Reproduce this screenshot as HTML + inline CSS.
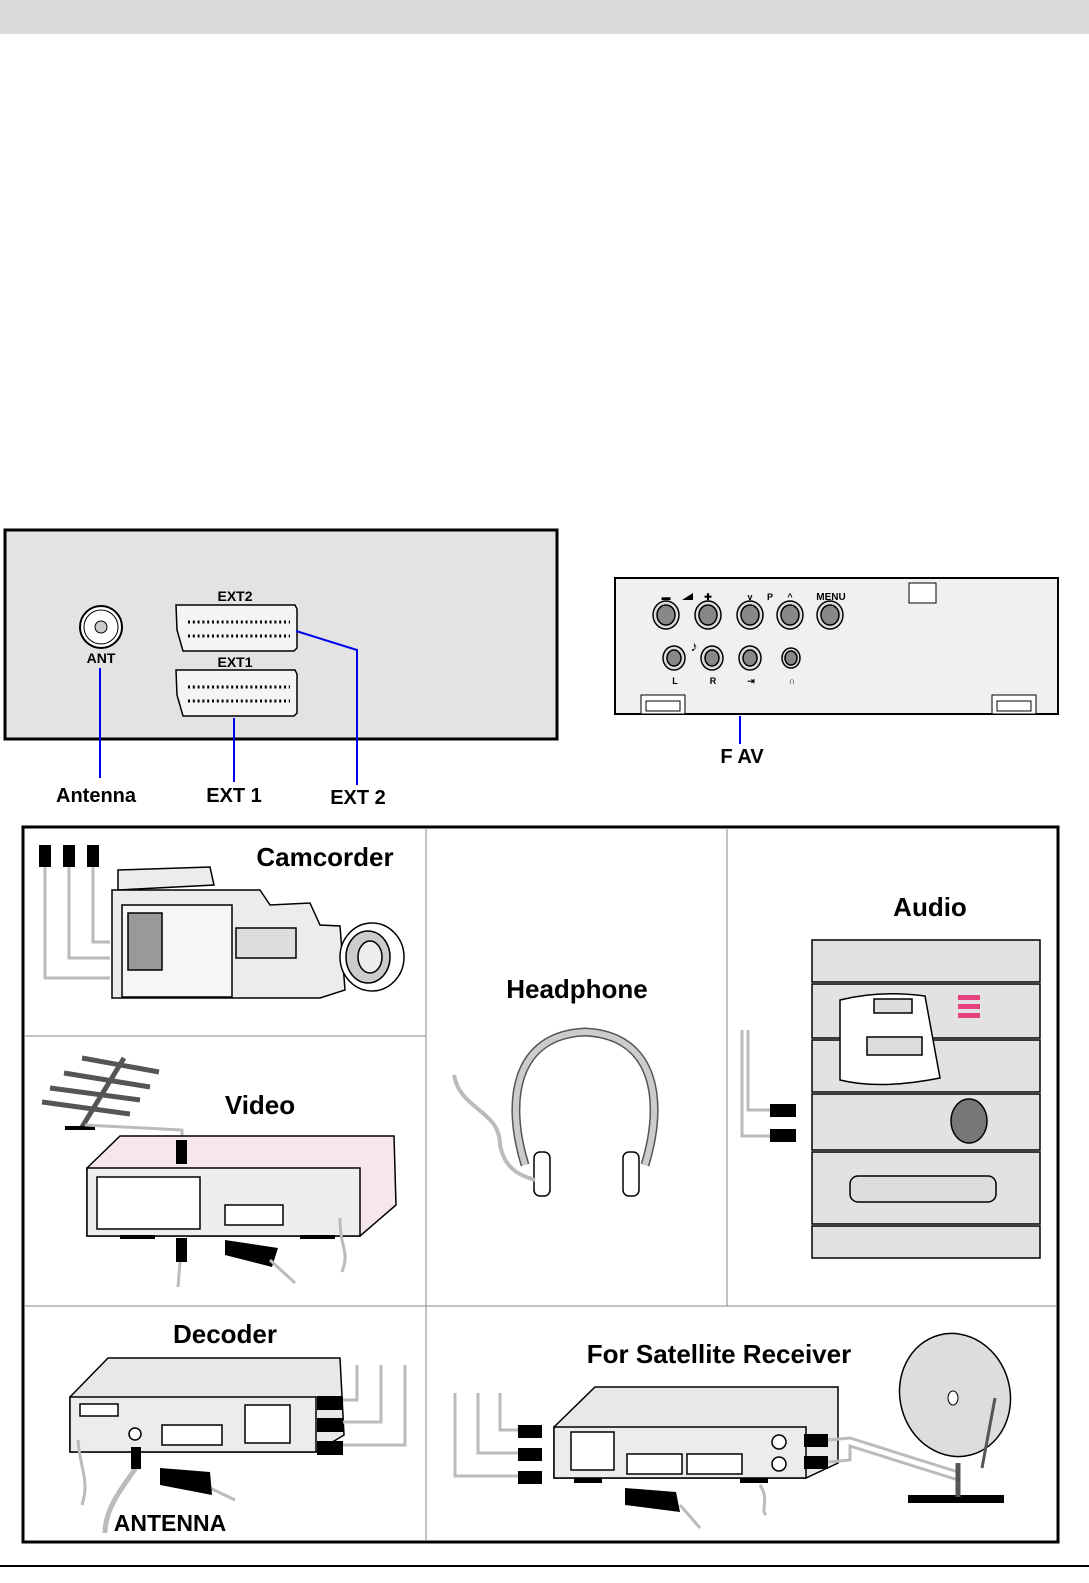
<!DOCTYPE html>
<html><head><meta charset="utf-8"><style>
html,body{margin:0;padding:0;background:#fff;overflow:hidden;width:100%;height:100%;}
svg{display:block;width:100vw;height:100vh;}
text{font-family:"Liberation Sans",Arial,sans-serif;font-weight:bold;}
</style></head><body>
<svg viewBox="0 0 1089 1583" preserveAspectRatio="none" xmlns="http://www.w3.org/2000/svg">
<rect x="0" y="0" width="1089" height="34" fill="#d9d9d9"/>
<rect x="5" y="530" width="552" height="209" fill="#e3e3e3" stroke="#000" stroke-width="3"/>
<circle cx="101" cy="627" r="21" fill="#fff" stroke="#000" stroke-width="2"/>
<circle cx="101" cy="627" r="17" fill="none" stroke="#000" stroke-width="1"/>
<circle cx="101" cy="627" r="6" fill="#ccc" stroke="#000"/>
<text x="101" y="663" font-size="14" text-anchor="middle">ANT</text>
<text x="235" y="601" font-size="14" text-anchor="middle">EXT2</text>
<text x="235" y="667" font-size="14" text-anchor="middle">EXT1</text>
<g fill="#f4f4f4" stroke="#000" stroke-width="1.5">
<path d="M176,605 L295,605 L297,609 L297,648 L294,651 L183,651 L177,630 Z"/>
<path d="M176,670 L295,670 L297,674 L297,713 L294,716 L183,716 L177,695 Z"/>
</g>
<g stroke="#000" stroke-width="3" stroke-dasharray="2,2.8">
<line x1="188" y1="622" x2="290" y2="622"/><line x1="188" y1="636" x2="290" y2="636"/>
<line x1="188" y1="687" x2="290" y2="687"/><line x1="188" y1="701" x2="290" y2="701"/>
</g>
<g stroke="#0000ee" stroke-width="2" fill="none">
<line x1="100" y1="668" x2="100" y2="778"/>
<line x1="234" y1="718" x2="234" y2="782"/>
<polyline points="296,631 357,650 357,785"/>
<line x1="740" y1="716" x2="740" y2="744"/>
</g>
<text x="96" y="802" font-size="20" text-anchor="middle">Antenna</text>
<text x="234" y="802" font-size="20" text-anchor="middle">EXT 1</text>
<text x="358" y="804" font-size="20" text-anchor="middle">EXT 2</text>
<rect x="615" y="578" width="443" height="136" fill="#f0f0f0" stroke="#000" stroke-width="2"/>
<rect x="909" y="583" width="27" height="20" fill="#fff" stroke="#000"/>
<g fill="#888" stroke="#000" stroke-width="1.5">
<ellipse cx="666" cy="615" rx="13" ry="14" fill="#ddd"/><ellipse cx="666" cy="615" rx="9" ry="10"/>
<ellipse cx="708" cy="615" rx="13" ry="14" fill="#ddd"/><ellipse cx="708" cy="615" rx="9" ry="10"/>
<ellipse cx="750" cy="615" rx="13" ry="14" fill="#ddd"/><ellipse cx="750" cy="615" rx="9" ry="10"/>
<ellipse cx="790" cy="615" rx="13" ry="14" fill="#ddd"/><ellipse cx="790" cy="615" rx="9" ry="10"/>
<ellipse cx="830" cy="615" rx="13" ry="14" fill="#ddd"/><ellipse cx="830" cy="615" rx="9" ry="10"/>
<ellipse cx="674" cy="658" rx="11" ry="12" fill="#ddd"/><ellipse cx="674" cy="658" rx="7" ry="8"/>
<ellipse cx="712" cy="658" rx="11" ry="12" fill="#ddd"/><ellipse cx="712" cy="658" rx="7" ry="8"/>
<ellipse cx="750" cy="658" rx="11" ry="12" fill="#ddd"/><ellipse cx="750" cy="658" rx="7" ry="8"/>
<ellipse cx="791" cy="658" rx="9" ry="10" fill="#ddd"/><ellipse cx="791" cy="658" rx="6" ry="7"/>
</g>
<g font-size="9" text-anchor="middle">
<text x="666" y="600">▬</text><path d="M682,600 L693,593 L693,600 Z"/><text x="708" y="600">✚</text>
<text x="750" y="600">v</text><text x="770" y="600">P</text><text x="790" y="600">^</text>
<text x="831" y="600" font-size="10">MENU</text>
<text x="675" y="684">L</text><text x="713" y="684">R</text><text x="751" y="684">⇥</text><text x="792" y="684">∩</text>
<text x="694" y="651" font-size="14">♪</text>
</g>
<g fill="#fff" stroke="#000"><rect x="641" y="695" width="44" height="19"/><rect x="646" y="701" width="34" height="10"/>
<rect x="992" y="695" width="44" height="19"/><rect x="997" y="701" width="34" height="10"/></g>
<text x="742" y="763" font-size="20" text-anchor="middle">F AV</text>

<rect x="23" y="827" width="1035" height="715" fill="#fff" stroke="#000" stroke-width="3"/>
<g stroke="#888" stroke-width="1">
<line x1="426" y1="828" x2="426" y2="1541"/><line x1="727" y1="828" x2="727" y2="1306"/>
<line x1="24" y1="1306" x2="1057" y2="1306"/><line x1="24" y1="1036" x2="426" y2="1036"/>
</g>
<g font-size="26" text-anchor="middle">
<text x="325" y="866">Camcorder</text><text x="930" y="916">Audio</text>
<text x="577" y="998">Headphone</text><text x="260" y="1114">Video</text>
<text x="225" y="1343">Decoder</text><text x="719" y="1363">For Satellite Receiver</text>
<text x="170" y="1531" font-size="23">ANTENNA</text>
</g>
<g stroke="#bbb" stroke-width="3" fill="none">
<polyline points="45,860 45,978 110,978"/><polyline points="69,860 69,958 110,958"/><polyline points="93,860 93,942 110,942"/>
</g>
<g fill="#000"><rect x="39" y="845" width="12" height="22"/><rect x="63" y="845" width="12" height="22"/><rect x="87" y="845" width="12" height="22"/></g>
<g stroke="#000" stroke-width="1.5" fill="#ececec">
<path d="M118,870 L210,867 L214,885 L118,890 Z"/>
<path d="M112,890 L260,890 L270,905 L310,903 L320,925 L340,926 L345,990 L320,998 L112,998 Z"/>
<rect x="122" y="905" width="110" height="92" fill="#f6f6f6"/>
<rect x="128" y="913" width="34" height="57" fill="#999"/>
<rect x="236" y="928" width="60" height="30" fill="#ddd"/>
<ellipse cx="372" cy="957" rx="32" ry="34" fill="#fff"/>
<ellipse cx="368" cy="957" rx="22" ry="26" fill="#ccc"/>
<ellipse cx="370" cy="957" rx="12" ry="16" fill="#eee"/>
</g>
<g stroke="#555" stroke-width="5">
<line x1="82" y1="1058" x2="159" y2="1072"/><line x1="64" y1="1073" x2="150" y2="1087"/>
<line x1="50" y1="1088" x2="140" y2="1100"/><line x1="42" y1="1102" x2="130" y2="1114"/>
<line x1="124" y1="1058" x2="82" y2="1127"/>
</g>
<rect x="65" y="1126" width="30" height="4" fill="#000"/>
<polyline points="85,1125 182,1130 182,1140" stroke="#bbb" stroke-width="3" fill="none"/>
<g stroke="#000" stroke-width="1.5">
<path d="M87,1168 L120,1136 L394,1136 L396,1205 L360,1236 L87,1236 Z" fill="#f8e6ef"/>
<rect x="87" y="1168" width="273" height="68" fill="#eee"/>
<rect x="97" y="1177" width="103" height="52" fill="#fff"/>
<rect x="225" y="1205" width="58" height="20" fill="#fff"/>
</g>
<rect x="176" y="1140" width="11" height="24" fill="#000"/>
<rect x="176" y="1238" width="11" height="24" fill="#000"/>
<rect x="120" y="1235" width="35" height="4" fill="#000"/><rect x="300" y="1235" width="35" height="4" fill="#000"/>
<path d="M225,1240 L278,1248 L272,1267 L225,1255 Z" fill="#000"/>
<g stroke="#bbb" stroke-width="3" fill="none"><line x1="180" y1="1262" x2="178" y2="1287"/><line x1="270" y1="1260" x2="295" y2="1283"/><path d="M340,1218 C340,1250 350,1250 342,1272"/></g>
<path d="M525,1165 C505,1100 515,1035 585,1032 C655,1035 665,1100 645,1165" fill="none" stroke="#555" stroke-width="9"/>
<path d="M525,1165 C505,1100 515,1035 585,1032 C655,1035 665,1100 645,1165" fill="none" stroke="#ccc" stroke-width="6"/>
<g fill="#fff" stroke="#000" stroke-width="1.5"><rect x="534" y="1152" width="16" height="44" rx="6"/><rect x="623" y="1152" width="16" height="44" rx="6"/></g>
<path d="M454,1075 C460,1110 500,1110 500,1145 C505,1170 520,1175 535,1180" fill="none" stroke="#bbb" stroke-width="4"/>
<g stroke="#000" stroke-width="1.5" fill="#e2e2e2">
<rect x="812" y="940" width="228" height="42"/>
<rect x="812" y="984" width="228" height="54"/>
<rect x="812" y="1040" width="228" height="52"/>
<rect x="812" y="1094" width="228" height="56"/>
<rect x="812" y="1152" width="228" height="72"/>
<rect x="812" y="1226" width="228" height="32"/>
<path d="M840,1000 Q880,990 925,996 L940,1078 Q880,1090 840,1080 Z" fill="#fff"/>
<rect x="874" y="999" width="38" height="14" fill="#ddd"/>
<rect x="867" y="1037" width="55" height="18" fill="#ddd"/>
<ellipse cx="969" cy="1121" rx="18" ry="22" fill="#777"/>
<rect x="850" y="1176" width="146" height="26" rx="8" fill="#ddd"/>
</g>
<g fill="#e6417f"><rect x="958" y="995" width="22" height="5"/><rect x="958" y="1004" width="22" height="5"/><rect x="958" y="1013" width="22" height="5"/></g>
<g stroke="#bbb" stroke-width="3" fill="none"><polyline points="748,1030 748,1110 770,1110"/><polyline points="742,1030 742,1136 770,1136"/></g>
<g fill="#000"><rect x="770" y="1104" width="26" height="13"/><rect x="770" y="1129" width="26" height="13"/></g>
<g stroke="#000" stroke-width="1.5">
<path d="M70,1397 L108,1358 L340,1358 L344,1435 L316,1452 L70,1452 Z" fill="#e8e8e8"/>
<rect x="70" y="1397" width="246" height="55" fill="#ececec"/>
<rect x="80" y="1404" width="38" height="12" fill="#fff"/>
<rect x="162" y="1425" width="60" height="20" fill="#fff"/>
<rect x="245" y="1405" width="45" height="38" fill="#fff"/>
<circle cx="135" cy="1434" r="6" fill="#fff"/>
</g>
<g fill="#000"><rect x="317" y="1396" width="26" height="14"/><rect x="317" y="1418" width="26" height="14"/><rect x="317" y="1441" width="26" height="14"/></g>
<g stroke="#bbb" stroke-width="3" fill="none"><polyline points="343,1400 357,1400 357,1365"/><polyline points="343,1422 381,1422 381,1365"/><polyline points="343,1445 405,1445 405,1365"/>
<path d="M78,1440 C80,1470 90,1480 82,1505"/><path d="M136,1468 C120,1490 105,1510 105,1533" stroke-width="5"/><line x1="210" y1="1488" x2="235" y2="1500"/></g>
<rect x="131" y="1447" width="10" height="22" fill="#000"/>
<path d="M160,1468 L210,1472 L212,1495 L160,1485 Z" fill="#000"/>
<g stroke="#000" stroke-width="1.5">
<path d="M554,1427 L595,1387 L838,1387 L838,1463 L806,1478 L554,1478 Z" fill="#e8e8e8"/>
<rect x="554" y="1427" width="252" height="51" fill="#ececec"/>
<rect x="571" y="1432" width="43" height="38" fill="#fff"/>
<rect x="627" y="1454" width="55" height="20" fill="#fff"/>
<rect x="687" y="1454" width="55" height="20" fill="#fff"/>
<circle cx="779" cy="1442" r="7" fill="#fff"/><circle cx="779" cy="1464" r="7" fill="#fff"/>
<ellipse cx="955" cy="1395" rx="55" ry="62" transform="rotate(-15 955 1395)" fill="#ddd"/>
</g>
<ellipse cx="953" cy="1398" rx="5" ry="7" fill="#fff" stroke="#000"/>
<g fill="#000"><rect x="518" y="1425" width="24" height="13"/><rect x="518" y="1448" width="24" height="13"/><rect x="518" y="1471" width="24" height="13"/>
<rect x="804" y="1434" width="24" height="13"/><rect x="804" y="1456" width="24" height="13"/>
<rect x="908" y="1495" width="96" height="8"/><rect x="574" y="1478" width="28" height="5"/><rect x="740" y="1478" width="28" height="5"/></g>
<g stroke="#bbb" stroke-width="3" fill="none"><polyline points="518,1430 500,1430 500,1393"/><polyline points="518,1453 478,1453 478,1393"/><polyline points="518,1476 455,1476 455,1393"/>
<polyline points="828,1440 850,1438 958,1472"/><polyline points="828,1462 850,1460 850,1446 958,1480"/><line x1="680" y1="1505" x2="700" y2="1528"/><path d="M760,1485 C770,1500 760,1510 766,1515"/></g>
<line x1="958" y1="1463" x2="958" y2="1497" stroke="#555" stroke-width="5"/>
<line x1="995" y1="1398" x2="982" y2="1468" stroke="#555" stroke-width="3"/>
<path d="M625,1488 L676,1492 L680,1512 L625,1505 Z" fill="#000"/>
<line x1="0" y1="1566" x2="1089" y2="1566" stroke="#000" stroke-width="2"/>
</svg>
</body></html>
